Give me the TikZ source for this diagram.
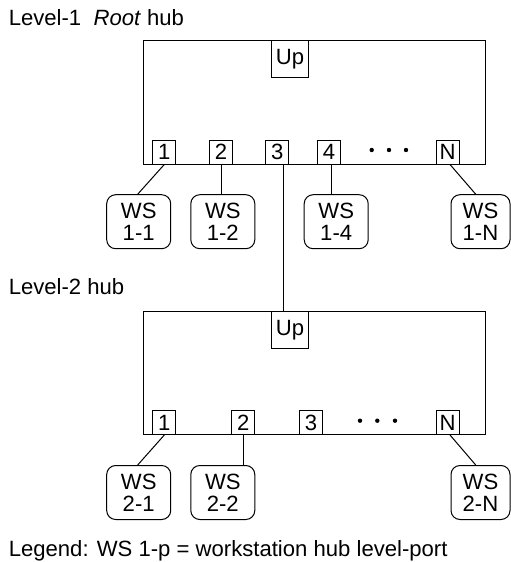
\documentclass[tikz,border=0pt]{standalone}
\usepackage{fontspec}
\setmainfont{Liberation Sans}
\begin{document}
\begin{tikzpicture}[x=1pt,y=-1pt,line width=1pt,
  every node/.style={font=\fontsize{22.1}{22.4}\selectfont},
  hubbox/.style={draw,rectangle,inner sep=0pt,minimum width=342.4pt},
  portbox/.style={draw,rectangle,inner sep=0pt,minimum width=23.3pt,minimum height=23.8pt},
  upbox/.style={draw,rectangle,inner sep=0pt,minimum width=36.6pt,minimum height=36.6pt},
  wsbox/.style={draw,rectangle,rounded corners=9pt,inner sep=0pt,align=center,minimum width=64pt,minimum height=54pt},
  lbl/.style={anchor=base west,inner sep=0pt},
  dotmark/.style={circle,fill,inner sep=0pt,minimum size=4.4pt}]
\useasboundingbox (0,0) rectangle (511,562);
% labels
\node[lbl] (t1) at (8.3,25) {Level-1\ \ \textit{Root} hub};
\node[lbl] (t2) at (8.3,294) {Level-2 hub};
\node[lbl] (t3) at (8.3,556.7) {Legend: WS 1-p = workstation hub level-port};
% hub 1
\node[hubbox,minimum height=123.3pt] (h1) at (314.5,102.35) {};
\node[upbox] (u1) at (290,59) {Up};
\node[portbox] (p11) at (164.3,152.1) {1};
\node[portbox] (p12) at (221,152.1) {2};
\node[portbox] (p13) at (277.3,152.1) {3};
\node[portbox] (p14) at (329,152.1) {4};
\node[portbox] (p1N) at (447.7,152.1) {N};
\node[dotmark] (d11) at (371.7,150) {};
\node[dotmark] (d12) at (389,150) {};
\node[dotmark] (d13) at (406,150) {};
\node[wsbox] (w11) at (138.7,221.7) {WS\\1-1};
\node[wsbox] (w12) at (222.8,221.7) {WS\\1-2};
\node[wsbox] (w14) at (336.2,221.7) {WS\\1-4};
\node[wsbox,minimum width=59pt] (w1N) at (480.5,221.7) {WS\\1-N};
% hub 2
\node[hubbox,minimum height=122.8pt] (h2) at (314.5,373.1) {};
\node[upbox] (u2) at (290,330) {Up};
\node[portbox] (p21) at (164.3,422.6) {1};
\node[portbox] (p22) at (243.3,422.6) {2};
\node[portbox] (p23) at (311,422.6) {3};
\node[portbox] (p2N) at (447.7,422.6) {N};
\node[dotmark] (d21) at (360,420.7) {};
\node[dotmark] (d22) at (377.3,420.7) {};
\node[dotmark] (d23) at (395,420.7) {};
\node[wsbox] (w21) at (138.7,492.5) {WS\\2-1};
\node[wsbox] (w22) at (222.8,492.5) {WS\\2-2};
\node[wsbox,minimum width=59pt] (w2N) at (480.5,492.5) {WS\\2-N};
% connectors
\draw (p11.south) -- ([xshift=-1pt]w11.north);
\draw ([xshift=0.7pt]p12.south) -- ([xshift=0.7pt]p12.south |- w12.north);
\draw ([xshift=2.7pt]p14.south) -- ([xshift=2.7pt]p14.south |- w14.north);
\draw ([xshift=2.3pt]p1N.south) -- ([xshift=-4.8pt]w1N.north);
\draw ([xshift=5.7pt]p13.south) -- ([xshift=5.7pt]p13.south |- u2.north);
\draw (p21.south) -- ([xshift=-1pt]w21.north);
\draw (p22.south) -- (p22.south |- w22.north);
\draw ([xshift=2.3pt]p2N.south) -- ([xshift=-4.8pt]w2N.north);
\end{tikzpicture}
\end{document}
